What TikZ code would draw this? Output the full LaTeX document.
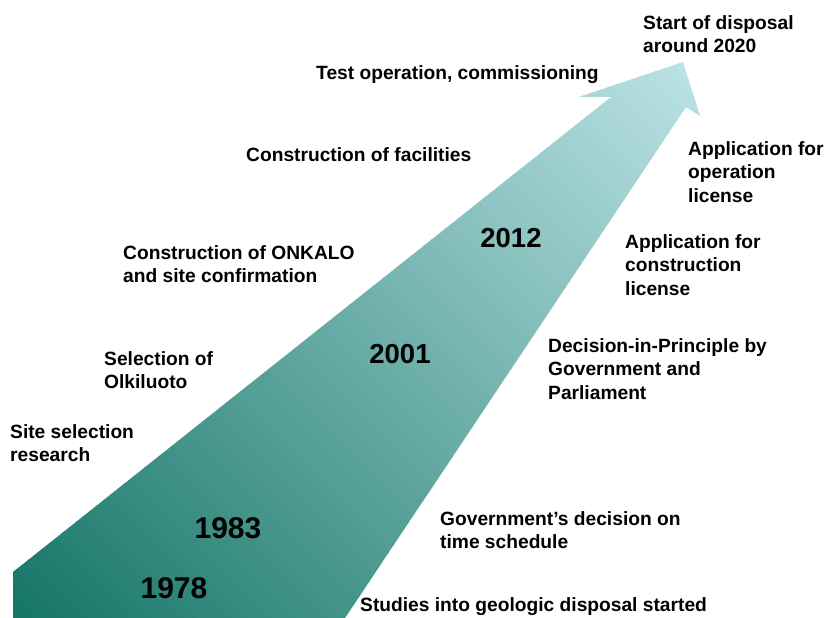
\documentclass[tikz,border=0pt]{standalone}
\usepackage{fontspec}
\setmainfont{Liberation Sans}
\definecolor{arrowdark}{RGB}{22,118,103}
\definecolor{arrowlight}{RGB}{188,226,230}
\begin{document}
\begin{tikzpicture}[x=1pt,y=-1pt,
  lbl/.style={inner sep=0pt,anchor=west,align=left,font=\bfseries\fontsize{19.2}{23.5}\selectfont},
  yr/.style={inner sep=0pt,font=\bfseries\fontsize{27.5}{30}\selectfont},
  yrbig/.style={inner sep=0pt,font=\bfseries\fontsize{30}{32}\selectfont}]
\useasboundingbox (0,0) rectangle (825,618);
\coordinate (bl) at (13,618);
\coordinate (tl) at (13,572);
\coordinate (ls) at (611,97);
\coordinate (lb) at (579,97);
\coordinate (tip) at (683,62);
\coordinate (rb) at (700,116);
\coordinate (rs) at (686,107);
\coordinate (br) at (345,618);
\begin{scope}
  \clip (bl) -- (tl) -- (ls) -- (lb) -- (tip) -- (rb) -- (rs) -- (br) -- cycle;
  \begin{scope}[shift={(13,618)}, rotate=45]
    \foreach \i in {0,...,99}{
      \pgfmathsetmacro{\xa}{\i*8.67-0.5}
      \pgfmathsetmacro{\xb}{\i*8.67+9.2}
      \fill[arrowlight!\i!arrowdark] (\xa,-700) rectangle (\xb,700);
    }
  \end{scope}
\end{scope}
\node[yr] (y2012) at (511,238) {2012};
\node[yr] (y2001) at (400,354) {2001};
\node[yrbig] (y1983) at (228,528) {1983};
\node[yrbig] (y1978) at (174,588) {1978};
\node[lbl] (start) at (643,34) {Start of disposal\\around 2020};
\node[lbl] (test) at (316,75) {Test operation, commissioning};
\node[lbl] (facil) at (246,155) {Construction of facilities};
\node[lbl] (onkalo) at (123,264) {Construction of ONKALO\\and site confirmation};
\node[lbl] (olki) at (104,370) {Selection of\\Olkiluoto};
\node[lbl] (site) at (10,443) {Site selection\\research};
\node[lbl] (appop) at (688,172) {Application for\\operation\\license};
\node[lbl] (appcon) at (625,265) {Application for\\construction\\license};
\node[lbl] (dip) at (548,369) {Decision-in-Principle by\\Government and\\Parliament};
\node[lbl] (govt) at (440,530) {Government’s decision on\\time schedule};
\node[lbl] (studies) at (360,607) {Studies into geologic disposal started};
\end{tikzpicture}
\end{document}
